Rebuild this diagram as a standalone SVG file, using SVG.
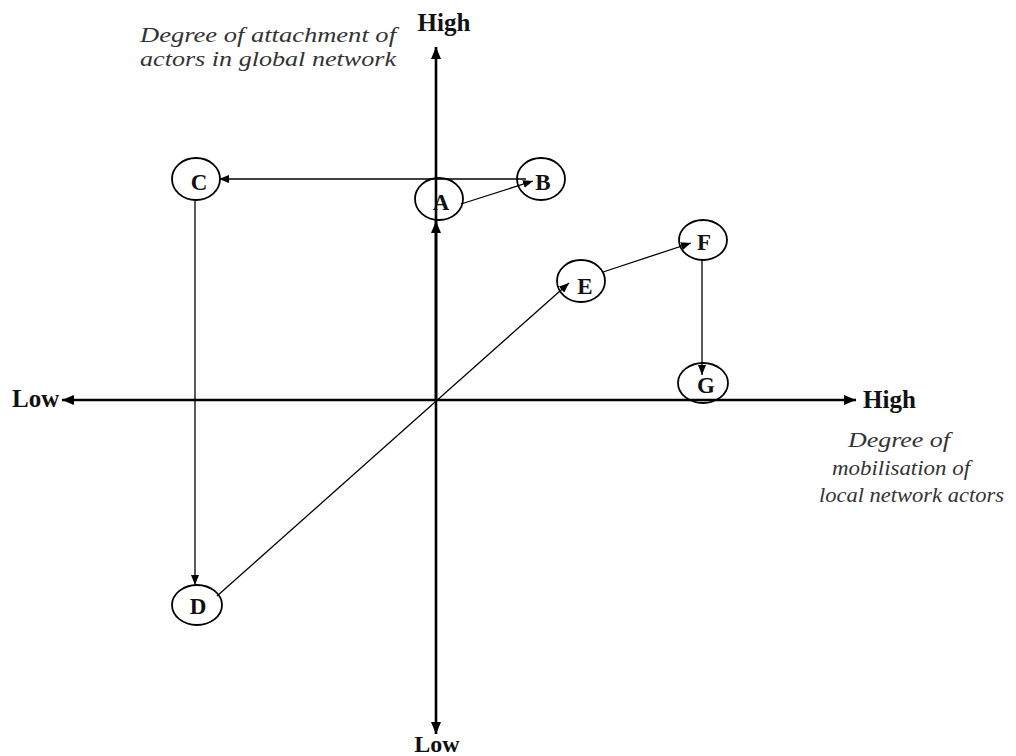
<svg xmlns="http://www.w3.org/2000/svg" width="1016" height="756" viewBox="0 0 1016 756">
<defs>
<marker id="ah" viewBox="0 0 10 8" refX="10" refY="4" markerWidth="10" markerHeight="8" markerUnits="userSpaceOnUse" orient="auto">
<path d="M0,0 L10,4 L0,8 Z" fill="#000"/>
</marker>
<marker id="ahb" viewBox="0 0 12 10" refX="12" refY="5" markerWidth="12" markerHeight="10" markerUnits="userSpaceOnUse" orient="auto">
<path d="M0,0 L12,5 L0,10 Z" fill="#000"/>
</marker>
</defs>
<style>
.axis{stroke:#000;stroke-width:2.6;fill:none}
.conn{stroke:#000;stroke-width:1.3;fill:none}
.node{fill:none;stroke:#000;stroke-width:1.8}
.lbl{font-family:"Liberation Serif",serif;font-weight:bold;font-size:23px;fill:#111;text-anchor:middle}
.ax{font-family:"Liberation Serif",serif;font-weight:bold;font-size:25px;fill:#111}
.cap{font-family:"Liberation Serif",serif;font-style:italic;font-size:22px;fill:#333}
</style>
<rect width="1016" height="756" fill="#fff"/>
<g id="axes">
<line class="axis" x1="436" y1="400" x2="436" y2="47" marker-end="url(#ahb)"/>
<line class="axis" x1="436" y1="400" x2="436" y2="734" marker-end="url(#ahb)"/>
<line class="axis" x1="436" y1="400" x2="62" y2="400" marker-end="url(#ahb)"/>
<line class="axis" x1="436" y1="400" x2="856" y2="400" marker-end="url(#ahb)"/>
<text class="ax" x="444" y="31" text-anchor="middle">High</text>
<text class="ax" x="437" y="752" text-anchor="middle" style="font-size:24px">Low</text>
<text class="ax" x="12" y="407">Low</text>
<text class="ax" x="863" y="408">High</text>
<text class="cap" x="140" y="42" textLength="256" lengthAdjust="spacingAndGlyphs">Degree of attachment of</text>
<text class="cap" x="140" y="66" textLength="256" lengthAdjust="spacingAndGlyphs">actors in global network</text>
<text class="cap" x="848" y="447" textLength="102" lengthAdjust="spacingAndGlyphs">Degree of</text>
<text class="cap" x="832" y="475" textLength="138" lengthAdjust="spacingAndGlyphs">mobilisation of</text>
<text class="cap" x="819" y="502" textLength="185" lengthAdjust="spacingAndGlyphs">local network actors</text>
</g>
<g id="nodes">
<g id="node-A"><ellipse class="node" cx="439" cy="199" rx="24" ry="21"/><text class="lbl" x="441" y="210">A</text></g>
<g id="node-B"><ellipse class="node" cx="541" cy="179" rx="24" ry="21"/><text class="lbl" x="543" y="190">B</text></g>
<g id="node-C"><ellipse class="node" cx="196" cy="179" rx="24" ry="21"/><text class="lbl" x="199" y="190">C</text></g>
<g id="node-D"><ellipse class="node" cx="197" cy="605" rx="25" ry="20"/><text class="lbl" x="198" y="614">D</text></g>
<g id="node-E"><ellipse class="node" cx="581" cy="281" rx="24" ry="21"/><text class="lbl" x="585" y="294">E</text></g>
<g id="node-F"><ellipse class="node" cx="703" cy="240" rx="24" ry="20"/><text class="lbl" x="704" y="250">F</text></g>
<g id="node-G"><ellipse class="node" cx="703" cy="383" rx="25" ry="20"/><text class="lbl" x="706" y="393">G</text></g>
</g>
<g id="connectors">
<line class="conn" x1="436" y1="400" x2="436" y2="221" marker-end="url(#ahb)" style="stroke-width:2.6"/>
<line class="conn" x1="461" y1="204" x2="533" y2="181" marker-end="url(#ah)"/>
<line class="conn" x1="526" y1="179" x2="219" y2="179" marker-end="url(#ah)"/>
<line class="conn" x1="195" y1="200" x2="195" y2="585" marker-end="url(#ah)"/>
<line class="conn" x1="217" y1="596" x2="569" y2="283" marker-end="url(#ah)"/>
<line class="conn" x1="603" y1="272" x2="691" y2="243" marker-end="url(#ah)"/>
<line class="conn" x1="702" y1="260" x2="702" y2="375" marker-end="url(#ah)"/>
</g>
</svg>
